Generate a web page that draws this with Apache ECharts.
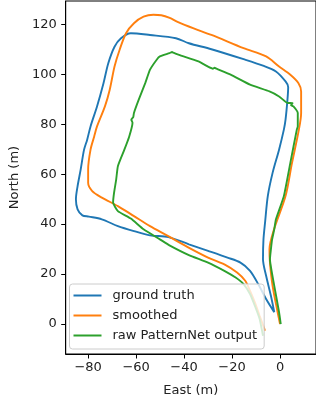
<!DOCTYPE html>
<html>
<head>
<meta charset="utf-8">
<script src="https://cdn.jsdelivr.net/npm/echarts@6/dist/echarts.min.js"></script>
<style>
  html, body { margin: 0; padding: 0; background: #fff; }
  #main { width: 316px; height: 402px; }
</style>
</head>
<body>
<div id="main"></div>
<script>
// track values (metres)
var seriesNames = ['ground truth', 'smoothed', 'raw PatternNet output'];
var xTicks = [-80, -60, -40, -20, 0];
var yTicks = [0, 20, 40, 60, 80, 100, 120];

var gtEast = [-2.4, -3.8, -5.8, -7.1, -6.9, -6.2, -5.1, -3.1, -0.4, 1.6, 2.3, 3.1, 3.4, 2.3, -1.7, -7.1, -15.2, -28.6, -38.0, -43.4, -54.2, -62.2, -66.3, -69.0, -71.6, -73.6, -76.3, -79.0, -80.4, -81.7, -83.1, -84.4, -85.1, -84.4, -82.4, -79.7, -74.3, -67.6, -60.9, -54.2, -46.5, -38.0, -30.0, -21.9, -16.5, -12.5, -9.1, -5.8, -2.4];
var gtNorth = [4.7, 11.3, 19.3, 25.9, 33.9, 41.0, 51.2, 60.5, 69.8, 77.8, 81.8, 89.8, 94.9, 97.1, 101.1, 103.4, 106.0, 110.0, 112.4, 114.4, 115.7, 116.4, 114.4, 111.0, 104.4, 96.4, 87.1, 79.1, 73.8, 69.8, 61.9, 55.2, 49.9, 45.9, 43.5, 43.0, 41.9, 39.2, 37.2, 35.5, 34.8, 31.9, 29.3, 26.6, 24.6, 21.3, 16.0, 10.0, 4.7];

var smEast = [0, -1.0, -3.1, -4.2, -4.4, -2.5, 2.3, 5.0, 7.7, 8.8, 8.8, 7.7, 4.3, -0.4, -5.8, -15.2, -28.6, -36.0, -42.5, -46.0, -49.5, -52.8, -56.9, -60.9, -64.2, -66.9, -69.0, -71.0, -73.0, -76.3, -77.5, -79.0, -80.0, -80.0, -78.3, -74.3, -67.6, -60.9, -54.2, -46.8, -38.5, -30.0, -23.2, -17.9, -14.5, -12.5, -10.5, -8.5, -6.5, -6.3];
var smNorth = [0, 4.7, 15.3, 24.6, 29.9, 37.9, 51.2, 64.5, 77.0, 84.5, 93.1, 96.4, 99.8, 103.1, 107.1, 110.4, 115.7, 118.3, 120.8, 122.5, 123.6, 123.8, 123.0, 120.4, 116.4, 109.7, 103.1, 93.8, 87.1, 79.1, 75.0, 69.8, 61.9, 56.5, 53.2, 50.6, 47.2, 43.2, 39.2, 35.3, 30.8, 26.6, 23.9, 20.6, 17.3, 13.3, 8.7, 3.3, -2.0, -2.7];

var rawEast = [0.3, -0.4, -2.4, -4.2, -3.8, -3.3, -2.4, -1.7, 1.6, 4.3, 7.0, 7.4, 7.4, 5.6, 4.6, 5.2, 3.0, -0.4, -4.4, -12.5, -20.6, -26.5, -27.3, -28.0, -34.0, -42.1, -44.5, -45.0, -46.1, -50.1, -51.5, -54.2, -56.2, -58.9, -60.9, -61.2, -62.0, -61.5, -62.9, -64.9, -67.6, -68.3, -69.2, -69.6, -67.6, -62.2, -56.9, -50.1, -46.1, -38.0, -30.0, -23.2, -18.5, -15.2, -12.5, -10.5, -8.5, -7.1];
var rawNorth = [0, 4.7, 15.3, 25.9, 29.9, 33.9, 37.9, 41.9, 51.2, 64.5, 77.8, 79.1, 84.5, 87.1, 87.6, 88.4, 88.5, 91.1, 93.1, 95.8, 99.8, 102.2, 102.6, 102.2, 105.1, 107.7, 108.6, 108.9, 108.4, 107.1, 105.7, 101.8, 96.4, 89.8, 84.5, 82.8, 81.8, 80.6, 75.0, 69.8, 63.2, 57.9, 52.5, 48.6, 45.2, 42.2, 37.9, 33.9, 31.5, 27.6, 24.6, 21.3, 18.6, 16.0, 12.0, 7.3, 2.0, -4.7];

function pairs(xs, ys) {
  var out = [];
  for (var i = 0; i < xs.length; i++) out.push([xs[i], ys[i]]);
  return out;
}

var chart = echarts.init(document.getElementById('main'));

var textCol = '#222';
var option = {
  animation: false,
  textStyle: { fontFamily: 'DejaVu Sans' },
  color: ['#1f77b4', '#ff7f0e', '#2ca02c'],
  grid: {
    left: 62.5,
    right: -5.5,
    top: 1,
    bottom: 47,
    show: true,
    borderColor: '#000',
    borderWidth: 1
  },
  legend: {
    orient: 'vertical',
    left: 69.5,
    top: 284,
    icon: 'rect',
    itemWidth: 28,
    itemHeight: 2,
    itemGap: 5,
    padding: [4, 7, 6, 4],
    backgroundColor: 'rgba(255,255,255,0.8)',
    borderColor: '#cccccc',
    borderWidth: 1,
    borderRadius: 3,
    textStyle: { fontSize: 13, color: textCol, lineHeight: 15, padding: [0, 0, 0, 6] },
    data: seriesNames
  },
  xAxis: {
    type: 'value',
    min: -89.35,
    max: 15,
    name: 'East (m)',
    nameLocation: 'middle',
    nameGap: 30,
    nameTextStyle: { fontSize: 13, color: textCol },
    splitLine: { show: false },
    axisLine: { onZero: false, lineStyle: { color: '#000', width: 1 } },
    axisTick: { customValues: xTicks, length: 4.5, lineStyle: { color: '#000' } },
    axisLabel: {
      customValues: xTicks,
      fontSize: 13,
      color: textCol,
      margin: 7,
      formatter: function (v) { return String(v).replace('-', '\u2212'); }
    }
  },
  yAxis: {
    type: 'value',
    min: -12,
    max: 129.3,
    name: 'North (m)',
    nameLocation: 'middle',
    nameGap: 40,
    nameRotate: 90,
    nameTextStyle: { fontSize: 13, color: textCol },
    splitLine: { show: false },
    axisLine: { show: true, onZero: false, lineStyle: { color: '#000', width: 1 } },
    axisTick: { show: true, customValues: yTicks, length: 4.5, lineStyle: { color: '#000' } },
    axisLabel: {
      customValues: yTicks,
      fontSize: 13,
      color: textCol,
      margin: 9
    }
  },
  series: [
    { name: seriesNames[0], type: 'line', symbol: 'none', smooth: 0.3, lineStyle: { width: 1.9 }, data: pairs(gtEast, gtNorth) },
    { name: seriesNames[1], type: 'line', symbol: 'none', smooth: 0.3, lineStyle: { width: 1.9 }, data: pairs(smEast, smNorth) },
    { name: seriesNames[2], type: 'line', symbol: 'none', smooth: 0.15, lineStyle: { width: 1.9 }, data: pairs(rawEast, rawNorth) }
  ]
};

chart.setOption(option);
</script>
</body>
</html>
